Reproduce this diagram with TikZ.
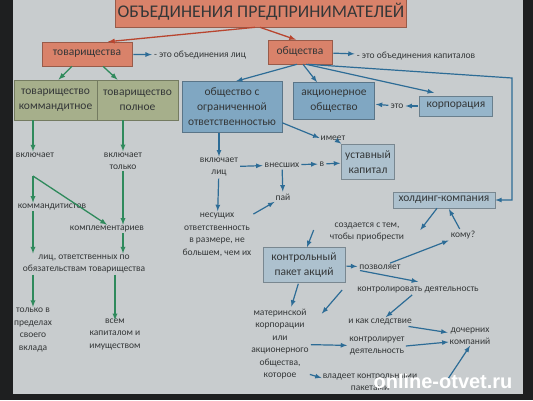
\documentclass[tikz,border=0pt]{standalone}
\usepackage{fontspec}
\setmainfont{Carlito}
\newfontfamily\markfont{Liberation Sans}
\usetikzlibrary{arrows}

\definecolor{slide}{HTML}{C8CCCE}
\definecolor{frame}{HTML}{1E1F20}
\definecolor{salmon}{HTML}{D9826A}
\definecolor{olive}{HTML}{A6AF8B}
\definecolor{blueA}{HTML}{80A7C2}
\definecolor{blueB}{HTML}{96B5CA}
\definecolor{blueC}{HTML}{ADC1CE}
\definecolor{redarr}{HTML}{B8452F}
\definecolor{grnarr}{HTML}{2F8A5C}
\definecolor{bluarr}{HTML}{2D6C96}
\definecolor{ink}{HTML}{343738}

\begin{document}
\begin{tikzpicture}[x=1pt,y=-1pt,
    box/.style={draw=#1!70!black,fill=#1,line width=.6pt,align=center,text=ink,inner sep=2pt,
        font=\fontsize{11.5}{15}\selectfont},
    lbl/.style={align=center,text=ink,inner sep=1pt,font=\fontsize{9.5}{12.5}\selectfont},
    rarr/.style={-latex,line width=1.3pt,draw=redarr},
    garr/.style={-latex,line width=1.3pt,draw=grnarr},
    barr/.style={-latex,line width=1.2pt,draw=bluarr}]
    \useasboundingbox (0,0) rectangle (533,400);
    \fill[slide] (0,0) rectangle (533,400);
    % screen frame
    \fill[frame] (0,0) rectangle (13,400);
    \fill[frame] (523,0) rectangle (533,400);
    \fill[frame] (0,394) rectangle (533,400);

    \node[box=salmon,minimum width=290pt,minimum height=30pt,font=\fontsize{17.8}{20}\selectfont] (title) at (261,12) {ОБЪЕДИНЕНИЯ ПРЕДПРИНИМАТЕЛЕЙ};
    \foreach \x/\y/\w/\h/\col/\name/\txt in {87/54/90/24/salmon/tov/товарищества,300/52/64/24/salmon/obsh/общества,
        55.5/100/83/40/olive/komm/{товарищество\\коммандитное},137.5/100/81/40/olive/poln/{товарищество\\полное},
        232/107/100/51/blueA/ooo/{общество с\\ограниченной\\ответственностью},334/101/81/37/blueA/ao/{акционерное\\общество},
        456/106/73/20/blueB/korp/корпорация,368/162/53/35/blueC/ustav/{уставный\\капитал},
        444/200/102/16/blueC/hold/холдинг-компания,304/265/82/35/blueC/kpa/{контрольный\\пакет акций}}{
        \node[box=\col,minimum width=\w pt,minimum height=\h pt,name=\name] at (\x,\y) {\txt};
    }
    \foreach \x/\y/\name/\txt in {200/55/tovtxt/{- это объединения лиц},416/56/obshtxt/{- это объединения капиталов},
        397/106/eto/это,35/155/incl/включает,123/161/incltol/{включает\\только},52/207/kommd/коммандитистов,
        107/229/kompl/комплементариев,84/264/lits/{лиц, ответственных по\\обязательствам товарищества},
        33/330/vklad/{только в\\пределах\\своего\\вклада},115/334/vsem/{всем\\капиталом и\\имуществом},
        333/138/imeet/имеет,219/167/incl2/{включает\\лиц},282/165/vnes/внесших,322/164/v/в,283/197/pai/пай,
        217/235/nesush/{несущих\\ответственность\\в размере, не\\большем, чем их},
        367/232/sozd/{создается с тем,\\чтобы приобрести},463/235/komu/кому?,380/267/pozv/позволяет,
        418/290/kontrd/{контролировать деятельность},
        280/344/mater/{материнской\\корпорации\\или\\акционерного\\общества,\\которое},
        380/322/sledst/{и как следствие},377/346/kontrl/{контролирует\\деятельность},
        370/382/vlad/{владеет контрольными\\пакетами},470/336/doch/{дочерних\\компаний}}{
        \node[lbl,name=\name] at (\x,\y) {\txt};
    }
    \coordinate (fork) at (33,176);

    % red
    \draw[rarr] ([xshift=-6pt]title.south) -- ([xshift=21pt]tov.north);
    \draw[rarr] ([xshift=-1pt]title.south) -- ([xshift=-4pt]obsh.north);
    % green
    \draw[garr] ([xshift=-15pt]tov.south) -- ([xshift=3pt]komm.north);
    \draw[garr] ([xshift=16pt]tov.south) -- ([xshift=-20pt]poln.north);
    \draw[garr] (komm.south -| fork) -- (fork |- incl.north);
    \draw[garr] (poln.south -| incltol) -- (incltol.north);
    \draw[garr] (fork) -- (fork |- kommd.north);
    \draw[garr] (fork) -- (kompl.north);
    \draw[garr] (incltol.south) -- (incltol.south |- kompl.north);
    \draw[garr] (kommd.south -| fork) -- (fork |- lits.north);
    \draw[garr] (kompl.south -| incltol) -- (incltol |- lits.north);
    \draw[garr] (lits.south -| fork) -- (vklad.north);
    \draw[garr] (lits.south -| vsem) -- ([yshift=-3pt]vsem.north);
    % blue
    \draw[barr] ([xshift=-3pt]obsh.south) -- ([xshift=4pt]ooo.north);
    \draw[barr] ([xshift=3pt]obsh.south) -- ([xshift=-17pt]ao.north);
    \draw[barr] ([xshift=6pt]obsh.south) -- ([xshift=-22pt,yshift=3pt]korp.north);
    \draw[barr] ([xshift=8pt]obsh.south) -- (512,78) |- (hold.east);
    \draw[barr] ([yshift=10pt]ooo.south east) -- (imeet.west);
    \draw[barr] (ooo.south -| incl2) -- (incl2.north);
    \draw[barr] ([xshift=-15pt,yshift=2pt]sozd.west) -- ([xshift=3pt]kpa.north);
    \draw[barr] ([xshift=-7pt]hold.south) -- ([xshift=15pt,yshift=2pt]sozd.east);
    \draw[barr] ([xshift=-20pt]pozv.south) -- ([yshift=4pt]kontrd.north);
    \draw[barr] ([xshift=-14pt]kontrd.west) -- ([xshift=12pt,yshift=-6pt]mater.north east);
    \draw[barr] ([yshift=6pt]mater.south east) -- ([yshift=4pt]vlad.west);
    \draw[barr] (kontrl.east) -- ([yshift=-6pt]doch.west);
    \draw[barr] ([xshift=30pt,yshift=-6pt]vlad.north east) -- (doch.south);
    \foreach \from/\to in {tov/tovtxt,obsh/obshtxt,korp/eto,eto/ao,imeet/ustav,incl2/vnes,vnes/v,v/ustav,
        vnes/pai,nesush/pai,incl2/nesush,komu/hold,kpa/pozv,pozv/komu,kontrd/sledst,kpa/mater,
        mater/kontrl,sledst/doch} {
        \draw[barr,shorten <=1pt,shorten >=1pt] (\from) -- (\to);
    }

    \node[text=white,font=\markfont\bfseries\fontsize{20}{21}\selectfont,name=mark] at (443,381) {online-otvet.ru};
\end{tikzpicture}
\end{document}
